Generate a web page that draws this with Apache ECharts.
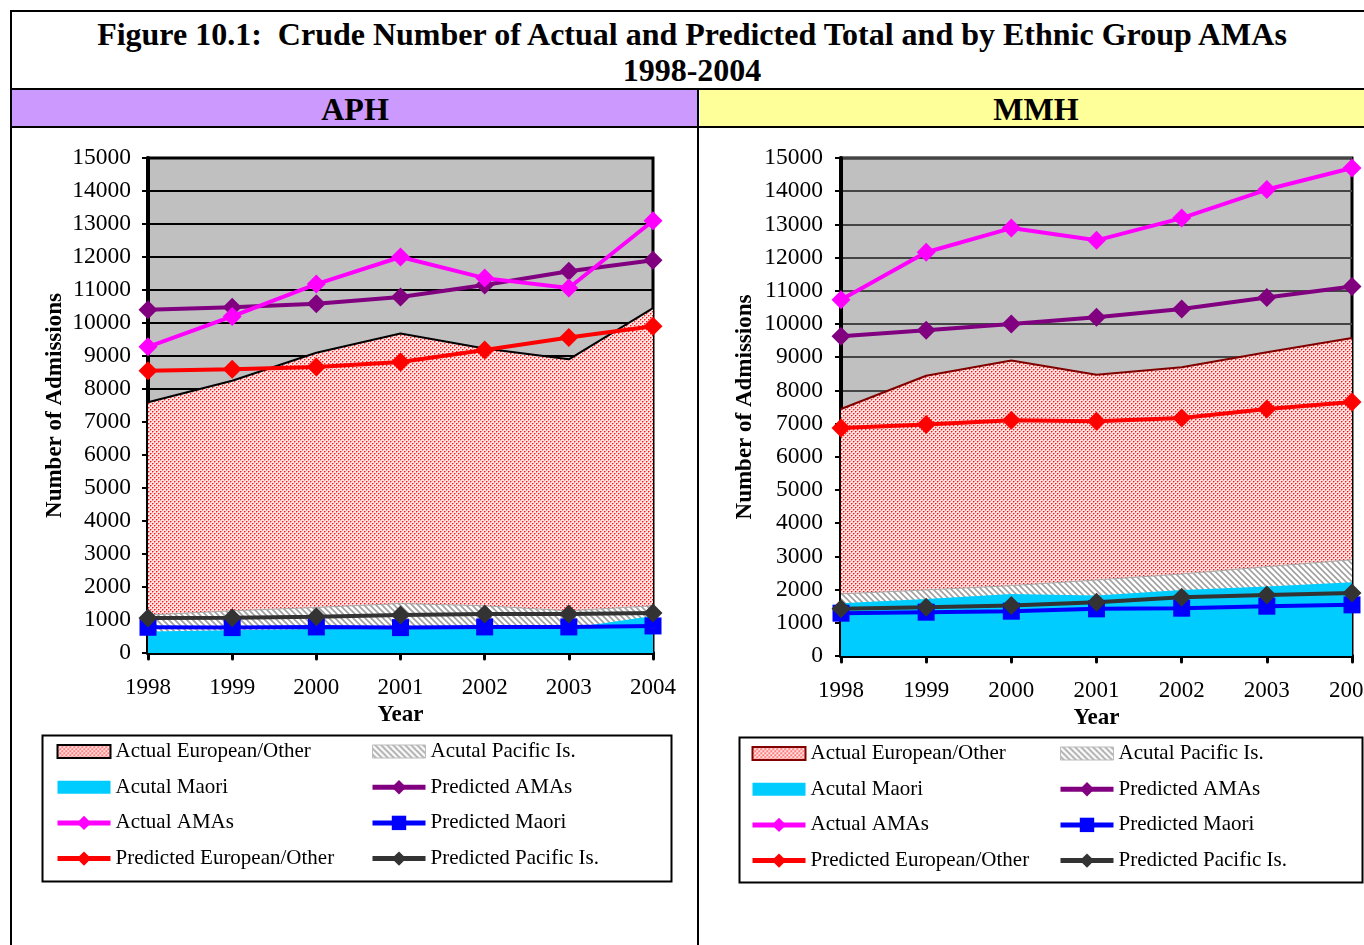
<!DOCTYPE html>
<html>
<head>
<meta charset="utf-8">
<script src="https://cdn.jsdelivr.net/npm/echarts@6/dist/echarts.min.js"></script>
<style>
  html, body { margin: 0; padding: 0; }
  body { width: 1364px; height: 945px; overflow: hidden; position: relative; background: #fff;
         font-family: 'Liberation Serif', 'DejaVu Serif', serif; }
  .ln { position: absolute; background: #000; }
  .title { position: absolute; left: 12px; width: 1360px; text-align: center; font-weight: bold;
           font-size: 32px; line-height: 36px; color: #000; }
  .head { position: absolute; top: 90px; height: 36px; text-align: center; font-weight: bold;
          font-size: 32px; line-height: 38px; color: #000; }
  .chart { position: absolute; top: 127px; height: 818px; }
</style>
</head>
<body>
<div class="title" style="top:16px">Figure 10.1:&nbsp; Crude Number of Actual and Predicted Total and by Ethnic Group AMAs</div>
<div class="title" style="top:52px">1998-2004</div>
<div class="head" style="left:12px;width:686px;background:#CC99FF">APH</div>
<div class="head" style="left:700px;width:700px;background:#FFFF99"><span style="display:block;width:672px">MMH</span></div>
<div class="ln" style="left:10px;top:10px;width:1400px;height:2px"></div>
<div class="ln" style="left:10px;top:10px;width:2px;height:940px"></div>
<div class="ln" style="left:10px;top:88px;width:1400px;height:2px"></div>
<div class="ln" style="left:10px;top:126px;width:1400px;height:2px"></div>
<div class="ln" style="left:697px;top:88px;width:2px;height:860px"></div>
<div id="aph" class="chart" style="left:0;width:697px"></div>
<div id="mmh" class="chart" style="left:699px;width:720px"></div>
<script>
const years = ['1998', '1999', '2000', '2001', '2002', '2003', '2004']
const yTicks = { min: 0, max: 15000, step: 1000 }

// APH
const aphActualEur = [7600, 8250, 9100, 9680, 9230, 8900, 10450]
const aphActualPac = [1150, 1280, 1380, 1500, 1430, 1280, 1430]
const aphActualMaori = [650, 690, 730, 730, 730, 750, 1120]
const aphPredAMAs = [10400, 10480, 10580, 10790, 11150, 11570, 11900]
const aphActualAMAs = [9280, 10200, 11180, 12000, 11360, 11060, 13100]
const aphPredMaori = [780, 770, 790, 770, 790, 790, 820]
const aphPredEur = [8550, 8600, 8670, 8820, 9180, 9560, 9900]
const aphPredPac = [1060, 1070, 1100, 1150, 1180, 1180, 1210]

// MMH
const mmhActualEur = [7440, 8440, 8900, 8470, 8700, 9150, 9580]
const mmhActualPac = [1870, 1990, 2120, 2290, 2470, 2690, 2900]
const mmhActualMaori = [1590, 1720, 1870, 1820, 1990, 2090, 2220]
const mmhPredAMAs = [9630, 9810, 10000, 10200, 10450, 10800, 11130]
const mmhActualAMAs = [10730, 12160, 12890, 12520, 13190, 14050, 14700]
const mmhPredMaori = [1290, 1320, 1350, 1420, 1440, 1500, 1540]
const mmhPredEur = [6870, 6970, 7100, 7070, 7170, 7440, 7650]
const mmhPredPac = [1420, 1470, 1520, 1620, 1770, 1840, 1900]

const FONT = 'Liberation Serif'

// dotted red fill, like the Excel pattern (one canvas per chart)
const makeDots = () => {
  const c = document.createElement('canvas')
  c.width = 4; c.height = 4
  const g = c.getContext('2d')
  g.fillStyle = '#ffe2e2'; g.fillRect(0, 0, 4, 4)
  g.fillStyle = '#ff8888'
  g.fillRect(1, 0, 1, 1); g.fillRect(0, 1, 1, 1); g.fillRect(3, 2, 1, 1); g.fillRect(2, 3, 1, 1)
  g.fillStyle = '#ff1010'
  g.fillRect(0, 0, 1, 1); g.fillRect(2, 2, 1, 1)
  return { image: c, repeat: 'repeat' }
}

// grey diagonal hatch
const makeHatch = () => {
  const c = document.createElement('canvas')
  c.width = 6; c.height = 6
  const g = c.getContext('2d')
  g.fillStyle = '#fff'; g.fillRect(0, 0, 6, 6)
  g.strokeStyle = '#a0a0a0'; g.lineWidth = 1.6
  g.beginPath()
  g.moveTo(-1, -1); g.lineTo(7, 7)
  g.moveTo(-4, 2); g.lineTo(4, 10)
  g.moveTo(2, -4); g.lineTo(10, 4)
  g.stroke()
  return { image: c, repeat: 'repeat' }
}

const lineSeries = (name, data, color, symbol, size) => ({
  name, data, type: 'line', symbol, symbolSize: size, showSymbol: true,
  lineStyle: { color, width: 4 },
  itemStyle: { color },
  emphasis: { disabled: true },
})

const areaSeries = (name, data, fill, edge, edgeWidth) => ({
  name, data, type: 'line', showSymbol: false, symbol: 'none',
  lineStyle: { color: edge, width: edgeWidth },
  itemStyle: { color: edge },
  areaStyle: { color: fill, opacity: 1 },
  emphasis: { disabled: true },
})

// flat box icon for the area entries
const boxIcon = 'path://M0,0 L53,0 L53,13 L0,13 Z'

function drawChart(el, d, lay) {
  const chart = echarts.init(el)
  const dots = makeDots()
  const hatch = makeHatch()
  const legendText = { fontFamily: FONT, fontSize: 21, color: '#000' }
  const legendBase = {
    orient: 'vertical', itemWidth: 53, itemHeight: 18, itemGap: 14.7,
    textStyle: legendText, selectedMode: false, top: lay.legendTop,
    lineStyle: { width: 5 }, symbolKeepAspect: true,
  }
  const nameStyle = { fontFamily: FONT, fontSize: 23, fontWeight: 'bold', color: '#000' }
  chart.setOption({
    animation: false,
    grid: {
      left: lay.gridLeft, top: 31, width: lay.gridWidth, height: lay.gridHeight,
      show: true, backgroundColor: '#C0C0C0', borderColor: '#000', borderWidth: 3,
    },
    xAxis: {
      type: 'category', data: years, boundaryGap: false,
      name: 'Year', nameLocation: 'middle', nameGap: lay.xNameGap,
      nameTextStyle: nameStyle,
      axisLine: { lineStyle: { color: '#000', width: 4 } },
      axisTick: { show: true, length: 6, lineStyle: { color: '#000', width: 3, cap: 'round' } },
      axisLabel: { fontFamily: FONT, fontSize: 23, color: '#000', margin: 23 },
      splitLine: { show: false },
    },
    yAxis: {
      type: 'value', min: yTicks.min, max: yTicks.max, interval: yTicks.step,
      name: 'Number of Admissions', nameLocation: 'middle', nameGap: lay.yNameGap,
      nameMoveOverlap: false,
      nameTextStyle: nameStyle,
      axisLine: { show: true, lineStyle: { color: '#000', width: 4 } },
      axisTick: { show: true, length: 6, lineStyle: { color: '#000', width: 2 } },
      axisLabel: { fontFamily: FONT, fontSize: 23.5, color: '#000', margin: lay.yLabelMargin, formatter: (v) => String(v) },
      splitLine: { lineStyle: { color: lay.gridColor, width: 2 } },
    },
    legend: [
      Object.assign({}, legendBase, {
        left: lay.legendCol1,
        data: [
          { name: 'Actual European/Other', icon: boxIcon, itemStyle: { color: dots, borderColor: d.eurEdge, borderWidth: 2 } },
          { name: 'Acutal Maori', icon: boxIcon, itemStyle: { color: '#00CCFF', borderWidth: 0 } },
          { name: 'Actual AMAs' },
          { name: 'Predicted European/Other' },
        ],
      }),
      Object.assign({}, legendBase, {
        left: lay.legendCol2,
        data: [
          { name: 'Acutal Pacific Is.', icon: boxIcon, itemStyle: { color: hatch, borderColor: '#bbb', borderWidth: 1 } },
          { name: 'Predicted AMAs' },
          { name: 'Predicted Maori' },
          { name: 'Predicted Pacific Is.' },
        ],
      }),
    ],
    graphic: [{
      type: 'rect', left: lay.boxLeft, top: lay.boxTop,
      shape: { width: lay.boxWidth, height: lay.boxHeight },
      style: { fill: 'none', stroke: '#000', lineWidth: 2 },
    }],
    series: [
      areaSeries('Actual European/Other', d.actualEur, dots, d.eurEdge, 2),
      areaSeries('Acutal Pacific Is.', d.actualPac, hatch, '#a8a8a8', 1),
      areaSeries('Acutal Maori', d.actualMaori, '#00CCFF', '#00CCFF', 0),
      lineSeries('Predicted AMAs', d.predAMAs, '#800080', 'diamond', 19),
      lineSeries('Actual AMAs', d.actualAMAs, '#FF00FF', 'diamond', 19),
      lineSeries('Predicted Maori', d.predMaori, '#0000FF', 'rect', 17),
      lineSeries('Predicted European/Other', d.predEur, '#FF0000', 'diamond', 19),
      lineSeries('Predicted Pacific Is.', d.predPac, '#333333', 'diamond', 19),
    ],
  })
  window.addEventListener('resize', () => chart.resize())
  return chart
}

drawChart(document.getElementById('aph'), {
  actualEur: aphActualEur, actualPac: aphActualPac, actualMaori: aphActualMaori,
  predAMAs: aphPredAMAs, actualAMAs: aphActualAMAs, predMaori: aphPredMaori,
  predEur: aphPredEur, predPac: aphPredPac, eurEdge: '#000',
}, {
  gridLeft: 148, gridWidth: 505, gridHeight: 495, yNameGap: 81, xNameGap: 47, yLabelMargin: 17, gridColor: '#000',
  legendTop: 609, legendCol1: 50, legendCol2: 365,
  boxLeft: 40, boxTop: 606, boxWidth: 629, boxHeight: 146,
})

drawChart(document.getElementById('mmh'), {
  actualEur: mmhActualEur, actualPac: mmhActualPac, actualMaori: mmhActualMaori,
  predAMAs: mmhPredAMAs, actualAMAs: mmhActualAMAs, predMaori: mmhPredMaori,
  predEur: mmhPredEur, predPac: mmhPredPac, eurEdge: '#800000',
}, {
  gridLeft: 142, gridWidth: 511, gridHeight: 498, yNameGap: 84, xNameGap: 49, yLabelMargin: 18, gridColor: '#444',
  legendTop: 611, legendCol1: 46, legendCol2: 354,
  boxLeft: 38, boxTop: 608, boxWidth: 623, boxHeight: 145,
})
</script>
</body>
</html>
